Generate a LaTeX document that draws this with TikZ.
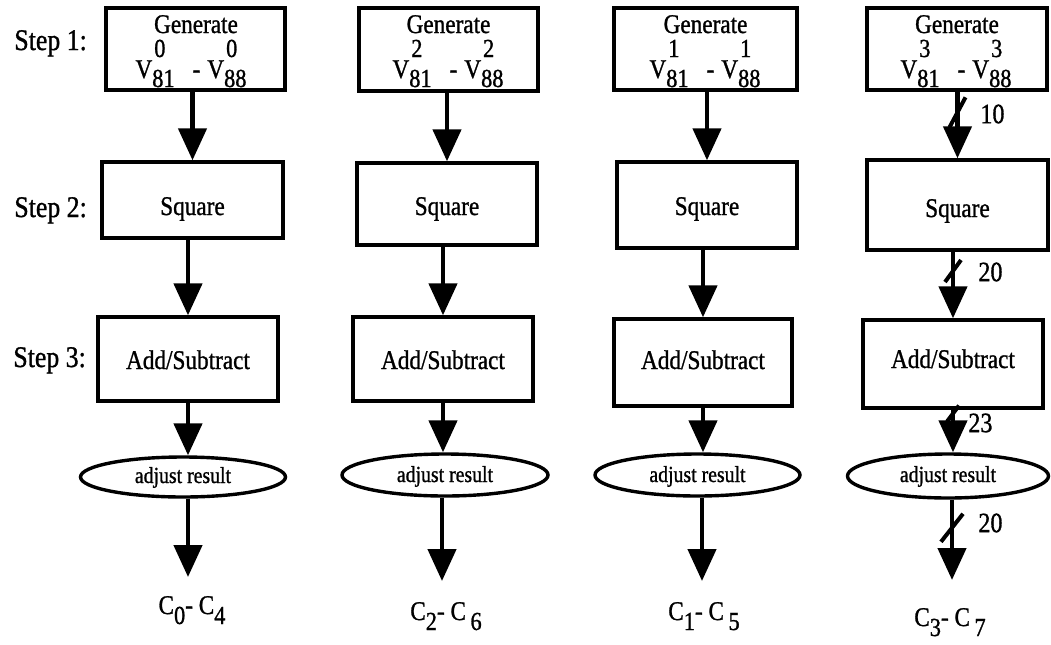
\documentclass[tikz,border=0pt]{standalone}
\usepackage{fontspec}
\setmainfont{Liberation Serif}[FakeStretch=0.86,FakeBold=1]
\usetikzlibrary{arrows.meta,shapes.geometric,calc}

% V with stacked superscript (column index) and subscript (register number)
\newcommand\vsym[2]{V\rlap{\kern1pt\smash{\raisebox{10.5pt}{\fontsize{13}{14}\selectfont #1}}}\raisebox{-4.5pt}{\fontsize{13}{14}\selectfont #2}}
\newcommand\vrange[1]{\vsym{#1}{81}\hspace{9pt}-\hspace{3.5pt}\vsym{#1}{88}}
% lowered index for the output ranges
\newcommand\lo[1]{\raisebox{-5pt}{\fontsize{13}{14}\selectfont #1}}

\begin{document}
\begin{tikzpicture}[x=0.5pt,y=-0.5pt,
  box/.style={draw, line width=1.7pt, rectangle, inner sep=0pt},
  oval/.style={draw, line width=1.7pt, ellipse, inner sep=0pt},
  arr/.style={line width=2.3pt, -{Triangle[length=16pt,width=14pt]}},
  slash/.style={line width=2pt},
  txt/.style={inner sep=0pt, anchor=base, font=\fontsize{13.5}{16}\selectfont},
  small/.style={inner sep=0pt, anchor=base, font=\fontsize{11.5}{14}\selectfont},
  steplab/.style={inner sep=0pt, anchor=base west, font=\fontsize{15}{17}\selectfont},
  bits/.style={inner sep=0pt, anchor=west, font=\fontsize{14}{16}\selectfont},
]
\useasboundingbox (0,0) rectangle (1051,644);

% step labels
\node[steplab] (st1) at (14,50) {Step 1:};
\node[steplab] (st2) at (14,217) {Step 2:};
\node[steplab] (st3) at (13,367) {Step 3:};

% ---- column 1
\node[box, minimum width=89.5pt, minimum height=41pt] (g1) at (195.5,49) {};
\node[txt] (g1a) at (196,33) {Generate};
\node[txt] (g1b) at (191,78) {\vrange{0}};
\node[box, minimum width=90.5pt, minimum height=38pt] (s1) at (192.5,200) {};
\node[txt] (s1t) at (192.5,215) {Square};
\node[box, minimum width=90pt, minimum height=42pt] (a1) at (188,359) {};
\node[txt] (a1t) at (188,369) {Add/Subtract};
\node[oval, minimum width=102.5pt, minimum height=20pt] (e1) at (183,477) {};
\node[small] (e1t) at (183,483) {adjust result};
\coordinate (c1) at (188,577);
\node[txt] (o1) at (192,614) {C\lo{0}- C\lo{4}};
\draw[arr] (g1.south -| s1.north) -- (s1.north);
\draw[arr] (s1.south -| a1.north) -- (a1.north);
\draw[arr] (a1.south) -- (a1.south |- e1.north);
\draw[arr] (c1 |- e1.south) -- (c1);

% ---- column 2
\node[box, minimum width=89.5pt, minimum height=41.5pt] (g2) at (448.5,49.5) {};
\node[txt] (g2a) at (448.5,33) {Generate};
\node[txt] (g2b) at (448,78) {\vrange{2}};
\node[box, minimum width=90pt, minimum height=41pt] (s2) at (447,204) {};
\node[txt] (s2t) at (447,215) {Square};
\node[box, minimum width=90pt, minimum height=42pt] (a2) at (443,359) {};
\node[txt] (a2t) at (443,369) {Add/Subtract};
\node[oval, minimum width=103pt, minimum height=21pt] (e2) at (445,475) {};
\node[small] (e2t) at (445,482) {adjust result};
\coordinate (c2) at (442,581);
\node[txt] (o2) at (446,620) {C\lo{2}- C\,\lo{6}};
\draw[arr] (g2.south -| s2.north) -- (s2.north);
\draw[arr] (s2.south -| a2.north) -- (a2.north);
\draw[arr] (a2.south) -- (a2.south |- e2.north);
\draw[arr] (c2 |- e2.south) -- (c2);

% ---- column 3
\node[box, minimum width=91.5pt, minimum height=41pt] (g3) at (705.5,49) {};
\node[txt] (g3a) at (705.5,33) {Generate};
\node[txt] (g3b) at (705,78) {\vrange{1}};
\node[box, minimum width=90pt, minimum height=43pt] (s3) at (707,205) {};
\node[txt] (s3t) at (707,215) {Square};
\node[box, minimum width=89pt, minimum height=43.5pt] (a3) at (703,362.5) {};
\node[txt] (a3t) at (703,369) {Add/Subtract};
\node[oval, minimum width=102.5pt, minimum height=21pt] (e3) at (697.5,475) {};
\node[small] (e3t) at (697.5,482) {adjust result};
\coordinate (c3) at (702,581);
\node[txt] (o3) at (704,620) {C\lo{1}- C\,\lo{5}};
\draw[arr] (g3.south -| s3.north) -- (s3.north);
\draw[arr] (s3.south -| a3.north) -- (a3.north);
\draw[arr] (a3.south) -- (a3.south |- e3.north);
\draw[arr] (c3 |- e3.south) -- (c3);

% ---- column 4 (with bus widths)
\node[box, minimum width=90pt, minimum height=41pt] (g4) at (957,49) {};
\node[txt] (g4a) at (957,33) {Generate};
\node[txt] (g4b) at (956,78) {\vrange{3}};
\node[box, minimum width=90.5pt, minimum height=45pt] (s4) at (957.5,205) {};
\node[txt] (s4t) at (957.5,217) {Square};
\node[box, minimum width=90pt, minimum height=44pt] (a4) at (953,364) {};
\node[txt] (a4t) at (953,368) {Add/Subtract};
\node[oval, minimum width=100.5pt, minimum height=22pt] (e4) at (948,476) {};
\node[small] (e4t) at (948,482) {adjust result};
\coordinate (c4) at (952,580);
\node[txt] (o4) at (950,626) {C\lo{3}- C\,\lo{7}};
\draw[arr] (g4.south -| s4.north) -- coordinate[pos=0.31] (t1) (s4.north);
\draw[arr] (s4.south -| a4.north) -- coordinate[pos=0.29] (t2) (a4.north);
\draw[arr] (a4.south) -- coordinate[pos=0.09] (t3) (a4.south |- e4.north);
\draw[arr] (c4 |- e4.south) -- coordinate[pos=0.35] (t4) (c4);
\draw[slash] ($(t1)+(-8,15)$) -- ($(t1)+(8,-15)$);
\draw[slash] ($(t2)+(-8,11)$) -- ($(t2)+(8,-11)$);
\draw[slash] ($(t3)+(-6,8)$) -- ($(t3)+(6,-8)$);
\draw[slash] ($(t4)+(-11,14)$) -- ($(t4)+(11,-14)$);
\node[bits] (b1) at (980,114) {10};
\node[bits] (b2) at (978,272) {20};
\node[bits] (b3) at (968,423) {23};
\node[bits] (b4) at (978,523) {20};
\end{tikzpicture}
\end{document}
